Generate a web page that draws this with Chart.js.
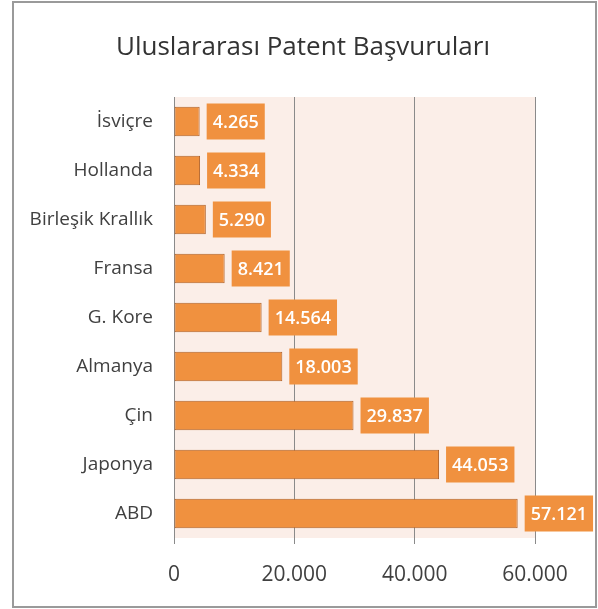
<!DOCTYPE html>
<html>
<head>
<meta charset="utf-8">
<script src="https://cdn.jsdelivr.net/npm/chart.js@4"></script>
<style>
    html, body { margin: 0; padding: 0; background: #fff; }
    #wrap { width: 598px; height: 609px; position: relative; }
</style>
</head>
<body>
<div id="wrap"><canvas id="chart"></canvas></div>
<script>
// Chart data
const chartTitle = 'Uluslararası Patent Başvuruları';
const countries = ['İsviçre', 'Hollanda', 'Birleşik Krallık', 'Fransa', 'G. Kore', 'Almanya', 'Çin', 'Japonya', 'ABD'];
const applications = [4265, 4334, 5290, 8421, 14564, 18003, 29837, 44053, 57121];
const xTicks = [0, 20000, 40000, 60000];

const orange = '#F0913F';
const textColor = '#404040';

// Turkish style thousands separator: 20.000
const fmt = v => String(v).replace(/\B(?=(\d{3})+(?!\d))/g, '.');

Chart.defaults.font.family = "'Open Sans', sans-serif";

// Background, frame, plot area fill and the title (centred on the whole frame)
const backgroundPlugin = {
    id: 'background',
    beforeDraw(chart) {
        const ctx = chart.ctx;
        const a = chart.chartArea;
        ctx.save();
        ctx.fillStyle = '#ffffff';
        ctx.fillRect(0, 0, chart.width, chart.height);
        ctx.fillStyle = '#FBEEE8';
        ctx.fillRect(a.left, a.top, a.right - a.left, a.bottom - a.top);
        ctx.strokeStyle = '#9a9a9a';
        ctx.lineWidth = 2;
        ctx.strokeRect(13, 2, 583, 605);

        ctx.fillStyle = '#333333';
        ctx.font = "26px 'Open Sans', sans-serif";
        ctx.textAlign = 'center';
        ctx.textBaseline = 'middle';
        ctx.fillText(chartTitle, 303, 48);
        ctx.restore();
    }
};

// Value labels in orange boxes right of every bar
const valueBoxPlugin = {
    id: 'valueBoxes',
    afterDatasetsDraw(chart) {
        const ctx = chart.ctx;
        const meta = chart.getDatasetMeta(0);
        ctx.save();
        ctx.font = "600 18px 'Open Sans', sans-serif";
        ctx.textBaseline = 'middle';
        ctx.textAlign = 'center';
        meta.data.forEach((bar, i) => {
            const text = fmt(chart.data.datasets[0].data[i]);
            const w = ctx.measureText(text).width + 12;
            const h = 36;
            const x0 = bar.x + 7;
            ctx.fillStyle = orange;
            ctx.fillRect(x0, bar.y - h / 2, w, h);
            ctx.fillStyle = '#ffffff';
            ctx.fillText(text, x0 + w / 2, bar.y + 1);
        });
        ctx.restore();
    }
};

new Chart(document.getElementById('chart').getContext('2d'), {
    type: 'bar',
    data: {
        labels: countries,
        datasets: [{
            data: applications,
            backgroundColor: orange,
            borderColor: '#B0622A',
            borderWidth: 1,
            borderSkipped: false,
            barPercentage: 0.6,
            categoryPercentage: 1,
        }],
    },
    options: {
        indexAxis: 'y',
        responsive: true,
        maintainAspectRatio: false,
        animation: false,
        layout: { padding: { left: 0, right: 63, top: 97, bottom: 0 } },
        plugins: {
            legend: { display: false },
            tooltip: { enabled: false },
            title: { display: false },
        },
        scales: {
            x: {
                min: 0,
                max: 60000,
                afterBuildTicks: scale => {
                    scale.ticks = xTicks.map(v => ({ value: v }));
                },
                afterFit: scale => { scale.height = 71; },
                grid: { color: '#8a8a8a', lineWidth: 1, tickLength: 6, drawTicks: true },
                border: { display: false },
                ticks: {
                    color: textColor,
                    font: { size: 21 },
                    padding: 18,
                    maxRotation: 0,
                    callback: v => fmt(v),
                },
            },
            y: {
                afterFit: scale => { scale.width = 174; },
                grid: { display: false, drawTicks: false },
                border: { display: false },
                ticks: {
                    color: textColor,
                    font: { size: 19 },
                    padding: 21,
                },
            },
        },
    },
    plugins: [backgroundPlugin, valueBoxPlugin],
});
</script>
</body>
</html>
